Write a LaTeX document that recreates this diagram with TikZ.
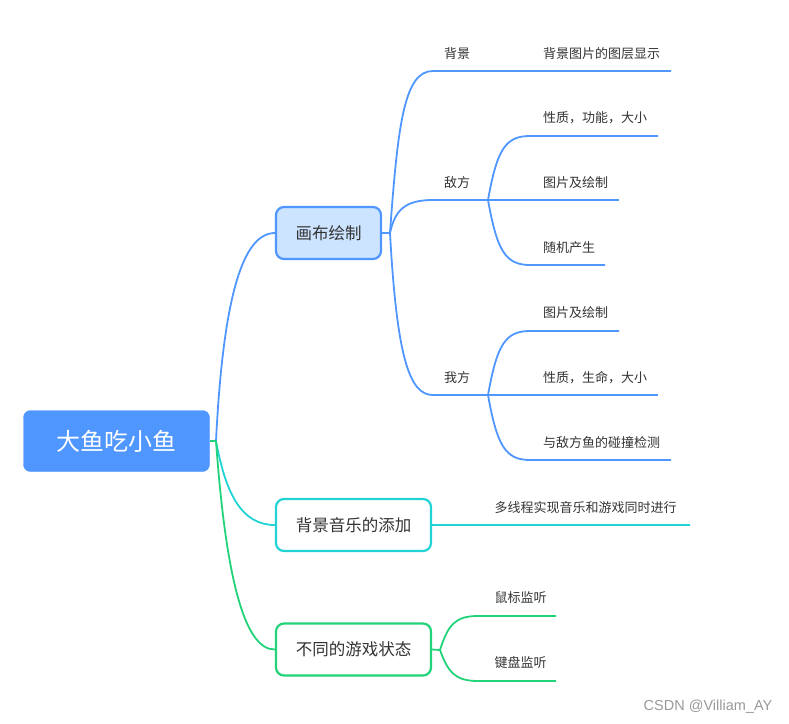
\documentclass[tikz,border=0pt]{standalone}
\usepackage{fontspec}
\setmainfont{Noto Sans CJK SC}
\newfontfamily\wmfont{Liberation Sans}
\usetikzlibrary{positioning}
\definecolor{mainblue}{HTML}{4F96FF}
\definecolor{paleblue}{HTML}{CCE4FF}
\definecolor{mmcyan}{HTML}{22D3D6}
\definecolor{mmgreen}{HTML}{22D37A}
\definecolor{txt}{HTML}{333333}
\tikzset{
  rootbox/.style={draw=mainblue, fill=mainblue, rounded corners=7pt, minimum width=186pt, minimum height=61pt, text=white, font=\fontsize{24}{28}\selectfont},
  topic/.style={rounded corners=8pt, line width=2.2pt, minimum height=52pt, text=txt, font=\fontsize{16.5}{20}\selectfont},
  sub/.style={text=txt, font=\fontsize{13}{16}\selectfont, inner sep=0pt},
  leaf/.style={sub, anchor=west},
  wmark/.style={font=\wmfont\fontsize{14.5}{16}\selectfont, text=black!40},
  blueline/.style={draw=mainblue, line width=1.8pt},
  cyanline/.style={draw=mmcyan, line width=1.8pt},
  greenline/.style={draw=mmgreen, line width=1.8pt},
}

\begin{document}
\begin{tikzpicture}[x=1pt, y=-1pt]
\useasboundingbox (0,0) rectangle (789,723);
% main topics
\node[rootbox] (root) at (116.5,441) {大鱼吃小鱼};
\node[topic, draw=mainblue, fill=paleblue, minimum width=105pt] (canvas) at (328.5,233) {画布绘制};
\node[topic, draw=mmcyan, fill=white, minimum width=155pt] (music) at (353.5,525) {背景音乐的添加};
\node[topic, draw=mmgreen, fill=white, minimum width=155pt] (state) at (353.5,649.5) {不同的游戏状态};
% branch points and line ends
\coordinate (hub) at (216,441);
\coordinate (cHub) at (390,233);
\coordinate (bgL) at (433,71);   \coordinate (bgR) at (671,71);
\coordinate (enL) at (433,200);  \coordinate (enHub) at (488,200);
\coordinate (meL) at (433,395);  \coordinate (meHub) at (488,395);
\coordinate (en1L) at (530,136); \coordinate (en1R) at (658,136);
\coordinate (en2R) at (619,200);
\coordinate (en3L) at (530,265); \coordinate (en3R) at (605,265);
\coordinate (me1L) at (530,331); \coordinate (me1R) at (619,331);
\coordinate (me2R) at (658,395);
\coordinate (me3L) at (530,460); \coordinate (me3R) at (671,460);
\coordinate (muR) at (690,525);
\coordinate (stHub) at (440,650);
\coordinate (st1L) at (478,616); \coordinate (st1R) at (556,616);
\coordinate (st2L) at (478,681); \coordinate (st2R) at (556,681);
% labels
\node[sub] (bgT) at (457,54) {背景};
\node[leaf] (bgLeaf) at (543,54) {背景图片的图层显示};
\node[sub] (enT) at (457,183) {敌方};
\node[leaf] (en1) at (543,118) {性质，功能，大小};
\node[leaf] (en2) at (543,183) {图片及绘制};
\node[leaf] (en3) at (543,248) {随机产生};
\node[sub] (meT) at (457,378) {我方};
\node[leaf] (me1) at (543,313) {图片及绘制};
\node[leaf] (me2) at (543,378) {性质，生命，大小};
\node[leaf] (me3) at (543,443) {与敌方鱼的碰撞检测};
\node[leaf] (mu1) at (494.5,508) {多线程实现音乐和游戏同时进行};
\node[leaf] (st1) at (494.5,598) {鼠标监听};
\node[leaf] (st2) at (494.5,663) {键盘监听};
\node[wmark] (wm) at (708,707) {CSDN @Villiam\_AY};
% connectors
\draw[blueline] (hub) .. controls (223,300) and (242,233) .. (canvas.west);
\draw[cyanline] (hub) .. controls (226,495) and (242,525) .. (music.west);
\draw[greenline] (hub) .. controls (226,580) and (245,650) .. (state.west);
\draw[greenline] (root.east) -- (hub);
\draw[blueline] (canvas.east) -- (cHub);
\draw[blueline] (cHub) .. controls (398,120) and (405,71) .. (bgL) -- (bgR);
\draw[blueline] (cHub) .. controls (395,210) and (405,200) .. (enL) -- (enHub);
\draw[blueline] (cHub) .. controls (397,360) and (410,395) .. (meL) -- (meHub);
\draw[blueline] (enHub) .. controls (497,150) and (505,136) .. (en1L) -- (en1R);
\draw[blueline] (enHub) -- (en2R);
\draw[blueline] (enHub) .. controls (497,250) and (505,265) .. (en3L) -- (en3R);
\draw[blueline] (meHub) .. controls (497,345) and (505,331) .. (me1L) -- (me1R);
\draw[blueline] (meHub) -- (me2R);
\draw[blueline] (meHub) .. controls (497,445) and (505,460) .. (me3L) -- (me3R);
\draw[cyanline] (music.east) -- (muR);
\draw[greenline] (state.east) -- (stHub);
\draw[greenline] (stHub) .. controls (448,625) and (455,616) .. (st1L) -- (st1R);
\draw[greenline] (stHub) .. controls (448,672) and (455,681) .. (st2L) -- (st2R);
\end{tikzpicture}
\end{document}
